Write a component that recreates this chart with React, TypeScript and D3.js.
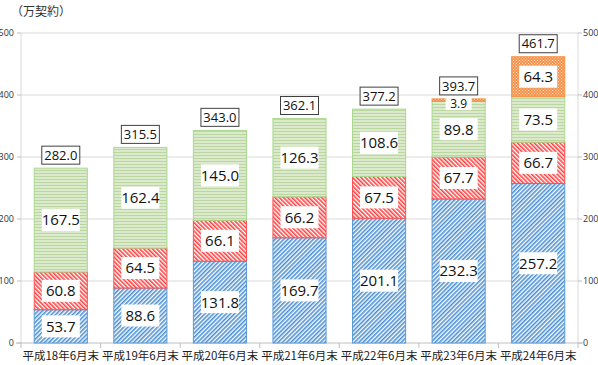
import React, { useEffect, useRef } from 'react';
import * as d3 from 'd3';

const categories = ['平成18年6月末', '平成19年6月末', '平成20年6月末', '平成21年6月末', '平成22年6月末', '平成23年6月末', '平成24年6月末'];
const blueValues = [53.7, 88.6, 131.8, 169.7, 201.1, 232.3, 257.2];
const redValues = [60.8, 64.5, 66.1, 66.2, 67.5, 67.7, 66.7];
const greenValues = [167.5, 162.4, 145.0, 126.3, 108.6, 89.8, 73.5];
const orangeValues = [0, 0, 0, 0, 0, 3.9, 64.3];
const totals = [282.0, 315.5, 343.0, 362.1, 377.2, 393.7, 461.7];
const yTicks = [0, 100, 200, 300, 400, 500];

const series = [
  { key: 'blue', values: blueValues, fill: 'url(#pBlue)', stroke: '#5b9bd5' },
  { key: 'red', values: redValues, fill: 'url(#pRed)', stroke: '#ff5050' },
  { key: 'green', values: greenValues, fill: 'url(#pGreen)', stroke: '#a9d98e' },
  { key: 'orange', values: orangeValues, fill: 'url(#pOrange)', stroke: '#f4914a' },
];

const W = 598;
const H = 365;
const font = '"Noto Sans CJK JP", "Noto Sans", sans-serif';
const numFont = '"Open Sans", "Noto Sans", sans-serif';

export default function App() {
  const svgRef = useRef<SVGSVGElement>(null);

  useEffect(() => {
    if (!svgRef.current) return;
    const svg = d3.select(svgRef.current);
    svg.selectAll('*').remove();

    const left = 21, right = 578, top = 33, bottom = 343;

    const defs = svg.append('defs');
    // blue: dense diagonal stripes ////
    const pb = defs.append('pattern').attr('id', 'pBlue').attr('patternUnits', 'userSpaceOnUse')
      .attr('width', 3).attr('height', 3).attr('patternTransform', 'rotate(45)');
    pb.append('rect').attr('width', 3).attr('height', 3).attr('fill', '#ffffff');
    pb.append('rect').attr('width', 1.6).attr('height', 3).attr('fill', '#4a8fd6');
    // red: diagonal stripes \\\\
    const pr = defs.append('pattern').attr('id', 'pRed').attr('patternUnits', 'userSpaceOnUse')
      .attr('width', 3).attr('height', 3).attr('patternTransform', 'rotate(-45)');
    pr.append('rect').attr('width', 3).attr('height', 3).attr('fill', '#ffffff');
    pr.append('rect').attr('width', 1.6).attr('height', 3).attr('fill', '#ff4040');
    // green: horizontal lines
    const pg = defs.append('pattern').attr('id', 'pGreen').attr('patternUnits', 'userSpaceOnUse')
      .attr('width', 4).attr('height', 3);
    pg.append('rect').attr('width', 4).attr('height', 3).attr('fill', '#dbe9cc');
    pg.append('rect').attr('y', 2).attr('width', 4).attr('height', 1).attr('fill', '#bcd6a0');
    // orange: fine checker
    const po = defs.append('pattern').attr('id', 'pOrange').attr('patternUnits', 'userSpaceOnUse')
      .attr('width', 3).attr('height', 3);
    po.append('rect').attr('width', 3).attr('height', 3).attr('fill', '#f4914a');
    po.append('rect').attr('x', 0).attr('y', 0).attr('width', 1).attr('height', 1).attr('fill', '#fde0c8');
    po.append('rect').attr('x', 1.5).attr('y', 1.5).attr('width', 1).attr('height', 1).attr('fill', '#fde0c8');

    const x = d3.scaleBand().domain(categories).range([left, right]).paddingInner(0.32).paddingOuter(0.16);
    const y = d3.scaleLinear().domain([0, 500]).range([bottom, top]);

    // gridlines
    svg.append('g').selectAll('line').data(yTicks.filter(t => t > 0)).enter().append('line')
      .attr('x1', left).attr('x2', right).attr('y1', d => y(d)).attr('y2', d => y(d))
      .attr('stroke', '#d9d9d9').attr('stroke-width', 1);

    // axis lines
    svg.append('line').attr('x1', left).attr('x2', left).attr('y1', top).attr('y2', bottom).attr('stroke', '#d9d9d9');
    svg.append('line').attr('x1', right).attr('x2', right).attr('y1', top).attr('y2', bottom).attr('stroke', '#d9d9d9');
    svg.append('line').attr('x1', left - 5).attr('x2', right + 5).attr('y1', bottom).attr('y2', bottom).attr('stroke', '#bfbfbf');
    // tick marks
    svg.append('g').selectAll('line').data(yTicks).enter().append('line')
      .attr('x1', left - 4).attr('x2', left).attr('y1', d => y(d)).attr('y2', d => y(d)).attr('stroke', '#bfbfbf');
    svg.append('g').selectAll('line').data(yTicks).enter().append('line')
      .attr('x1', right).attr('x2', right + 4).attr('y1', d => y(d)).attr('y2', d => y(d)).attr('stroke', '#bfbfbf');
    const step = x.step();
    svg.append('g').selectAll('line').data(d3.range(categories.length + 1)).enter().append('line')
      .attr('x1', i => left + i * step).attr('x2', i => left + i * step)
      .attr('y1', bottom).attr('y2', bottom + 5).attr('stroke', '#bfbfbf');

    // y labels
    svg.append('g').selectAll('text').data(yTicks).enter().append('text')
      .attr('x', 14).attr('y', d => y(d)).attr('dy', '0.35em').attr('text-anchor', 'end')
      .attr('font-size', 9).attr('font-family', numFont).attr('fill', '#333').text(d => d);
    svg.append('g').selectAll('text').data(yTicks).enter().append('text')
      .attr('x', 583).attr('y', d => y(d)).attr('dy', '0.35em').attr('text-anchor', 'start')
      .attr('font-size', 9).attr('font-family', numFont).attr('fill', '#333').text(d => d);

    // x labels
    svg.append('g').selectAll('text').data(categories).enter().append('text')
      .attr('x', d => x(d)! + x.bandwidth() / 2).attr('y', 360).attr('text-anchor', 'middle')
      .attr('font-size', 11.5).attr('font-family', font).attr('fill', '#222').text(d => d);

    // unit
    svg.append('text').attr('x', 11).attr('y', 16).attr('font-size', 12).attr('font-family', font)
      .attr('fill', '#333').text('（万契約）');

    // stacked bars
    const bars = svg.append('g');
    const labels: { cx: number; cy: number; v: number }[] = [];
    categories.forEach((c, i) => {
      let base = 0;
      series.forEach(s => {
        const v = s.values[i];
        if (v <= 0) return;
        const y0 = y(base), y1 = y(base + v);
        bars.append('rect').attr('x', x(c)! + 0.5).attr('y', y1).attr('width', x.bandwidth() - 1)
          .attr('height', y0 - y1).attr('fill', s.fill).attr('stroke', s.stroke).attr('stroke-width', 1);
        labels.push({ cx: x(c)! + x.bandwidth() / 2, cy: (y0 + y1) / 2, v });
        base += v;
      });
    });

    // segment labels
    const lg = svg.append('g');
    labels.forEach(l => {
      const small = l.v < 10;
      const w = small ? 26 : 38, h = small ? 12 : 22;
      const cy = small ? l.cy + 4 : l.cy;
      lg.append('rect').attr('x', l.cx - w / 2).attr('y', cy - h / 2).attr('width', w).attr('height', h).attr('fill', '#fff');
      lg.append('text').attr('x', l.cx).attr('y', cy).attr('dy', '0.36em').attr('text-anchor', 'middle')
        .attr('font-size', small ? 12 : 15).attr('font-family', numFont).attr('fill', '#111').text(l.v.toFixed(1));
    });

    // total labels
    const tg = svg.append('g');
    categories.forEach((c, i) => {
      const cx = x(c)! + x.bandwidth() / 2;
      const cy = y(totals[i]) - 13;
      tg.append('rect').attr('x', cx - 19).attr('y', cy - 9).attr('width', 38).attr('height', 18)
        .attr('fill', '#fff').attr('stroke', '#404040').attr('stroke-width', 1);
      tg.append('text').attr('x', cx).attr('y', cy).attr('dy', '0.36em').attr('text-anchor', 'middle')
        .attr('font-size', 13).attr('font-family', numFont).attr('fill', '#111').text(totals[i].toFixed(1));
    });
  }, []);

  return <svg ref={svgRef} width={W} height={H} style={{ position: 'absolute', left: 0, top: 0, background: '#fff' }} />;
}
